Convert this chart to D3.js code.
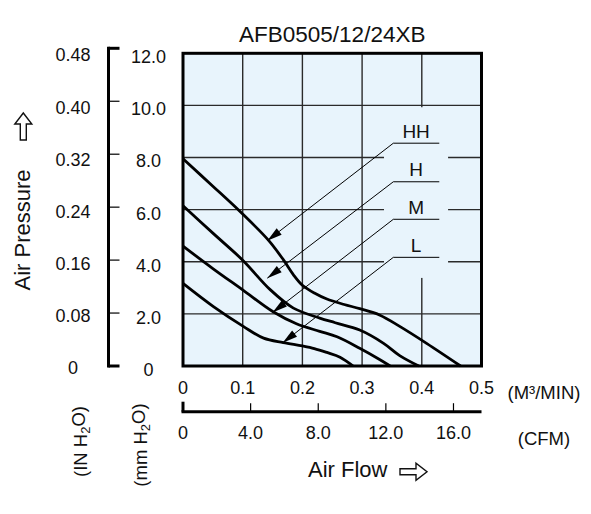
<!DOCTYPE html>
<html>
<head>
<meta charset="utf-8">
<title>AFB0505/12/24XB</title>
<script src="https://d3js.org/d3.v7.min.js"></script>
<style>
  body { margin: 0; background: #fff; }
  text { font-family: "Liberation Sans", Arial, sans-serif; fill: #111; }
</style>
</head>
<body>
<div id="canvas-1"></div>
<script>

// data: air flow (m3/min) vs static pressure (mm H2O)
var curveHH = [[0, 7.95], [0.05, 6.9], [0.096, 5.92], [0.143, 4.83], [0.168, 4.08], [0.185, 3.5],
               [0.2, 3.1], [0.22, 2.8], [0.241, 2.57], [0.27, 2.36], [0.296, 2.2], [0.33, 1.95],
               [0.363, 1.52], [0.408, 0.87], [0.465, 0]];
var curveH  = [[0, 6.15], [0.051, 5.08], [0.1, 4.06], [0.146, 2.93], [0.185, 2.22], [0.229, 1.84],
               [0.255, 1.66], [0.296, 1.38], [0.336, 0.87], [0.363, 0.4], [0.395, 0]];
var curveM  = [[0, 4.6], [0.05, 3.74], [0.1, 2.92], [0.151, 2.08], [0.19, 1.62], [0.229, 1.33],
               [0.258, 1.12], [0.296, 0.68], [0.33, 0.24], [0.347, 0]];
var curveL  = [[0, 3.17], [0.051, 2.28], [0.101, 1.52], [0.135, 1.07], [0.168, 0.9], [0.2, 0.77],
               [0.22, 0.67], [0.241, 0.52], [0.263, 0.34], [0.285, 0]];

var seriesNames = ["HH", "H", "M", "L"];
// where each leader arrow touches its curve, and the pressure of its label line
var arrowTips = {"HH": [0.1412, 4.81], "H": [0.1412, 3.37], "M": [0.150, 2.05], "L": [0.167, 0.89]};
var labelLevels = {"HH": 8.55, "H": 7.07, "M": 5.63, "L": 4.17};

// tick labels
var flowTicks = [0, 0.1, 0.2, 0.3, 0.4, 0.5];
var flowTickLabels = ["0", "0.1", "0.2", "0.3", "0.4", "0.5"];
var cfmTicks = [0, 4, 8, 12, 16];
var cfmTickLabels = ["0", "4.0", "8.0", "12.0", "16.0"];
var mmTicks = [0, 2, 4, 6, 8, 10, 12];
var mmTickLabels = ["0", "2.0", "4.0", "6.0", "8.0", "10.0", "12.0"];
var inTicks = [0, 0.08, 0.16, 0.24, 0.32, 0.40, 0.48];
var inTickLabels = ["0", "0.08", "0.16", "0.24", "0.32", "0.40", "0.48"];

var title = "AFB0505/12/24XB";

var width = 591;
var height = 514;
var plot = { left: 183, right: 481.5, top: 53.3, bottom: 366 };
var bgColor = "#e8f4fc";

var x = d3.scaleLinear().domain([0, 0.5]).range([plot.left, plot.right]);
var y = d3.scaleLinear().domain([0, 12]).range([plot.bottom, plot.top]);
var xCfm = d3.scaleLinear().domain([0, 0.5 * 35.3147]).range([plot.left, plot.right]);
var yIn = d3.scaleLinear().domain([0, 0.48]).range([plot.bottom, plot.top]);
// the bracket on the left sits a little higher than the plot
var yBracket = d3.scaleLinear().domain([0, 12]).range([366, 48.3]);

var svg = d3.select("#canvas-1")
  .append("svg")
  .attr("width", width)
  .attr("height", height);

// title
svg.append("text")
  .attr("x", (plot.left + plot.right) / 2)
  .attr("y", 41.5)
  .attr("text-anchor", "middle")
  .style("font-size", "22.5px")
  .text(title);

// plot background
svg.append("rect")
  .attr("x", plot.left).attr("y", plot.top)
  .attr("width", plot.right - plot.left).attr("height", plot.bottom - plot.top)
  .style("fill", bgColor);

// grid
var grid = svg.append("g").style("stroke", "#2a2a2a").style("stroke-width", 1.4);
grid.selectAll(".vgrid")
  .data(flowTicks.slice(1, -1))
  .enter().append("line")
  .attr("x1", d => x(d)).attr("x2", d => x(d))
  .attr("y1", plot.top).attr("y2", plot.bottom);
grid.selectAll(".hgrid")
  .data(mmTicks.slice(1, -1))
  .enter().append("line")
  .attr("x1", plot.left).attr("x2", plot.right)
  .attr("y1", d => y(d)).attr("y2", d => y(d));

// blank box behind the labels (hides the grid there)
svg.append("rect")
  .attr("x", x(0.3367)).attr("y", y(9.93))
  .attr("width", x(0.444) - x(0.3367)).attr("height", y(3.38) - y(9.93))
  .style("fill", bgColor);

// curves
var line = d3.line()
  .x(d => x(d[0]))
  .y(d => y(d[1]))
  .curve(d3.curveCatmullRom.alpha(0.5));

[curveHH, curveH, curveM, curveL].forEach(function(c) {
  svg.append("path")
    .datum(c)
    .attr("d", line)
    .style("fill", "none")
    .style("stroke", "#000")
    .style("stroke-width", 2.8)
    .style("stroke-linejoin", "round");
});

// leader lines, arrowheads and labels
var labelX0 = 0.3523, labelX1 = 0.4293, labelXc = 0.3905;
seriesNames.forEach(function(name) {
  var ly = y(labelLevels[name]);
  var tx = x(arrowTips[name][0]), ty = y(arrowTips[name][1]);
  var sx = x(labelX0);
  svg.append("polyline")
    .attr("points", [[x(labelX1), ly], [sx, ly], [tx, ty]].map(p => p.join(",")).join(" "))
    .style("fill", "none").style("stroke", "#000").style("stroke-width", 1);

  // filled arrowhead pointing at the curve
  var dx = tx - sx, dy = ty - ly;
  var len = Math.sqrt(dx * dx + dy * dy);
  var ux = dx / len, uy = dy / len;
  var headLen = 15, headHalf = 4;
  var bx = tx - ux * headLen, by = ty - uy * headLen;
  svg.append("polygon")
    .attr("points", [[tx, ty], [bx - uy * headHalf, by + ux * headHalf], [bx + uy * headHalf, by - ux * headHalf]]
      .map(p => p.join(",")).join(" "))
    .style("fill", "#000");

  svg.append("text")
    .attr("x", x(labelXc))
    .attr("y", ly - 5.5)
    .attr("text-anchor", "middle")
    .style("font-size", "19px")
    .text(name);
});

// plot frame
svg.append("rect")
  .attr("x", plot.left).attr("y", plot.top)
  .attr("width", plot.right - plot.left).attr("height", plot.bottom - plot.top)
  .style("fill", "none").style("stroke", "#000").style("stroke-width", 3);

// m3/min labels
svg.selectAll(".flowlab")
  .data(flowTicks)
  .enter().append("text")
  .attr("x", d => x(d))
  .attr("y", 394.3)
  .attr("text-anchor", "middle")
  .style("font-size", "18px")
  .text((d, i) => flowTickLabels[i]);

svg.append("text")
  .attr("x", 507.5).attr("y", 398.5)
  .style("font-size", "18.5px")
  .text("(M³/MIN)");

// CFM axis
var cfmY = 411.7;
svg.append("line")
  .attr("x1", xCfm(0) - 1.5).attr("x2", plot.right)
  .attr("y1", cfmY).attr("y2", cfmY)
  .style("stroke", "#000").style("stroke-width", 3);
svg.selectAll(".cfmtick")
  .data(cfmTicks)
  .enter().append("line")
  .attr("x1", d => xCfm(d)).attr("x2", d => xCfm(d))
  .attr("y1", d => d === 0 ? cfmY - 10 : cfmY - 8.5).attr("y2", cfmY)
  .style("stroke", "#000")
  .style("stroke-width", d => d === 0 ? 3 : 1.2);
svg.selectAll(".cfmlab")
  .data(cfmTicks)
  .enter().append("text")
  .attr("x", d => xCfm(d))
  .attr("y", 439)
  .attr("text-anchor", "middle")
  .style("font-size", "18px")
  .text((d, i) => cfmTickLabels[i]);
svg.append("text")
  .attr("x", 544).attr("y", 445)
  .attr("text-anchor", "middle")
  .style("font-size", "18.5px")
  .text("(CFM)");

// Air Flow title with outlined arrow
svg.append("text")
  .attr("x", 308).attr("y", 476.7)
  .style("font-size", "22px")
  .text("Air Flow");
drawArrow(svg, 400, 471.7, 27, 0);

// left bracket (mm H2O)
var bx0 = 108.5;
svg.append("line")
  .attr("x1", bx0).attr("x2", bx0)
  .attr("y1", yBracket(12) - 1.5).attr("y2", yBracket(0) + 1.5)
  .style("stroke", "#000").style("stroke-width", 3);
svg.selectAll(".btick")
  .data(mmTicks)
  .enter().append("line")
  .attr("x1", bx0).attr("x2", 119.5)
  .attr("y1", d => yBracket(d)).attr("y2", d => yBracket(d))
  .style("stroke", "#000")
  .style("stroke-width", d => (d === 0 || d === 12) ? 3 : 1.2);

svg.selectAll(".mmlab")
  .data(mmTicks)
  .enter().append("text")
  .attr("x", 148.5)
  .attr("y", d => y(d))
  .attr("dy", "0.55em")
  .attr("text-anchor", "middle")
  .style("font-size", "18px")
  .text((d, i) => mmTickLabels[i]);

svg.selectAll(".inlab")
  .data(inTicks)
  .enter().append("text")
  .attr("x", 73)
  .attr("y", d => yIn(d))
  .attr("dy", "0.45em")
  .attr("text-anchor", "middle")
  .style("font-size", "18px")
  .text((d, i) => inTickLabels[i]);

// Air Pressure title with outlined arrow
svg.append("text")
  .attr("transform", "translate(30,230) rotate(-90)")
  .attr("text-anchor", "middle")
  .style("font-size", "22px")
  .text("Air Pressure");
drawArrow(svg, 23.3, 140, 27, -90);

// unit labels under the left axes
unitLabel(svg, 86.5, 441.5, "(IN H");
unitLabel(svg, 146.5, 445, "(mm H");

function unitLabel(svg, px, py, head) {
  var t = svg.append("text")
    .attr("transform", `translate(${px},${py}) rotate(-90)`)
    .attr("text-anchor", "middle")
    .style("font-size", "18.5px");
  t.append("tspan").text(head);
  t.append("tspan").attr("dy", "0.25em").style("font-size", "13px").text("2");
  t.append("tspan").attr("dy", "-0.25em").text("O)");
}

// hollow block arrow; (px,py) is the tail centre, angle 0 points right
function drawArrow(svg, px, py, len, angle) {
  var shaft = 3, head = 8.5, headLen = 11;
  var pts = [[0, -shaft], [len - headLen, -shaft], [len - headLen, -head], [len, 0],
             [len - headLen, head], [len - headLen, shaft], [0, shaft]];
  svg.append("polygon")
    .attr("points", pts.map(p => p.join(",")).join(" "))
    .attr("transform", `translate(${px},${py}) rotate(${angle})`)
    .style("fill", "#fff")
    .style("stroke", "#111")
    .style("stroke-width", 1.4)
    .style("stroke-linejoin", "miter");
}

</script>
</body>
</html>
